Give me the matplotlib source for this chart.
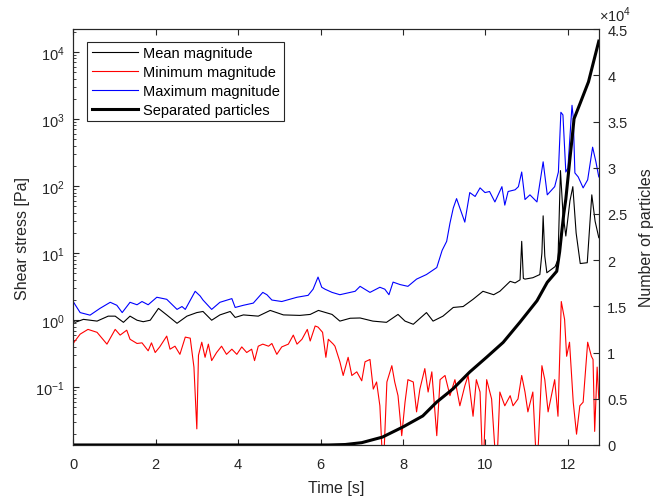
import numpy as np
import matplotlib
matplotlib.use("Agg")
import matplotlib.pyplot as plt
from matplotlib.ticker import FuncFormatter, LogLocator

plt.rcParams['font.family'] = ['Liberation Sans', 'DejaVu Sans']
plt.rcParams['mathtext.fontset'] = 'custom'
plt.rcParams['mathtext.rm'] = 'Liberation Sans'

# mean magnitude (black thin)
t_mean = [0, 0.05, 0.25, 0.58, 0.85, 1.02, 1.22, 1.38, 1.55, 1.7, 1.87, 2.07, 2.27, 2.52, 2.76,
          3.0, 3.15, 3.36, 3.56, 3.81, 3.93, 4.13, 4.49, 4.78, 5.1, 5.5, 5.75, 5.95, 6.28, 6.47,
          6.72, 6.96, 7.27, 7.6, 7.88, 8.05, 8.25, 8.57, 8.73, 8.97, 9.22, 9.46, 9.7, 9.94, 10.2,
          10.35, 10.6, 10.72, 10.84, 10.88, 10.92, 10.96, 11.15, 11.32, 11.37, 11.4, 11.44, 11.49,
          11.69, 11.76, 11.82, 11.88, 11.95, 12.05, 12.12, 12.2, 12.3, 12.47, 12.58, 12.66, 12.75]
mean_mag = [0.97, 0.93, 1.03, 0.97, 1.15, 1.15, 0.93, 1.15, 1.0, 0.95, 1.0, 1.5, 1.2, 0.9, 1.15,
            1.3, 1.35, 1.0, 1.2, 1.35, 1.1, 1.2, 1.15, 1.4, 1.2, 1.18, 1.22, 1.4, 1.22, 0.97,
            1.07, 1.08, 0.97, 0.93, 1.22, 0.97, 0.87, 1.3, 0.97, 1.15, 1.55, 1.6, 2.05, 2.7, 2.4,
            2.7, 3.8, 3.6, 4.0, 15, 4.2, 4.1, 4.3, 4.8, 10, 36, 9, 5.1,
            6.3, 8, 170, 40, 18, 60, 98, 20, 7.0, 7.2, 74, 30, 17]

# minimum magnitude (red)
t_min = [0, 0.17, 0.36, 0.58, 0.82, 1.02, 1.14, 1.3, 1.38, 1.55, 1.67, 1.82, 1.9, 1.99, 2.1,
         2.27, 2.35, 2.47, 2.59, 2.72, 2.84, 2.93, 3.0, 3.04, 3.12, 3.2, 3.28, 3.36, 3.48, 3.6,
         3.72, 3.85, 3.97, 4.09, 4.21, 4.33, 4.4, 4.49, 4.6, 4.74, 4.82, 4.94, 5.06, 5.22, 5.34,
         5.43, 5.55, 5.68, 5.75, 5.87, 5.94, 6.05, 6.13, 6.19, 6.31, 6.35, 6.47, 6.55, 6.67, 6.76,
         6.88, 7.0, 7.08, 7.2, 7.28, 7.36, 7.44, 7.52, 7.61, 7.73, 7.8, 7.88, 7.97, 8.05, 8.12,
         8.25, 8.33, 8.41, 8.53, 8.61, 8.7, 8.82, 8.9, 9.02, 9.14, 9.26, 9.38, 9.5, 9.58, 9.7,
         9.78, 9.87, 9.94, 10.03, 10.15, 10.27, 10.35, 10.47, 10.6, 10.67, 10.79, 10.88, 10.96,
         11.03, 11.15, 11.25, 11.37, 11.44, 11.52, 11.68, 11.76, 11.84, 11.92, 11.97, 12.04,
         12.13, 12.21, 12.29, 12.37, 12.48, 12.57, 12.61, 12.65, 12.71, 12.75]
min_mag = [0.45, 0.62, 0.73, 0.66, 0.44, 0.73, 0.6, 0.71, 0.52, 0.45, 0.46, 0.35, 0.46, 0.33, 0.4,
           0.58, 0.37, 0.41, 0.31, 0.56, 0.54, 0.2, 0.024, 0.3, 0.47, 0.28, 0.44, 0.25, 0.33, 0.41,
           0.31, 0.37, 0.31, 0.4, 0.33, 0.37, 0.25, 0.41, 0.44, 0.41, 0.45, 0.31, 0.4, 0.44, 0.6,
           0.44, 0.52, 0.73, 0.49, 0.82, 0.79, 0.66, 0.28, 0.52, 0.44, 0.41, 0.24, 0.15, 0.28, 0.15,
           0.17, 0.125, 0.24, 0.26, 0.094, 0.12, 0.053, 0.005, 0.12, 0.21, 0.12, 0.075, 0.019, 0.06, 0.13,
           0.12, 0.043, 0.094, 0.19, 0.085, 0.17, 0.019, 0.13, 0.15, 0.075, 0.13, 0.053, 0.105, 0.15, 0.037,
           0.13, 0.085, 0.005, 0.13, 0.067, 0.005, 0.085, 0.053, 0.075, 0.053, 0.067, 0.15, 0.085,
           0.043, 0.085, 0.005, 0.21, 0.13, 0.043, 0.13, 0.037, 1.9, 1.03, 0.29, 0.47,
           0.06, 0.02, 0.053, 0.06, 0.47, 0.29, 0.26, 0.022, 0.2, 0.067]

# maximum magnitude (blue)
t_max = [0, 0.17, 0.41, 0.65, 0.9, 1.06, 1.19, 1.38, 1.55, 1.67, 1.82, 2.03, 2.27, 2.52, 2.64,
         2.72, 2.96, 3.08, 3.15, 3.36, 3.56, 3.85, 3.93, 4.13, 4.37, 4.6, 4.7, 4.82, 5.06, 5.43,
         5.7, 5.82, 5.94, 6.03, 6.11, 6.28, 6.47, 6.84, 6.96, 7.2, 7.44, 7.56, 7.66, 7.76, 7.93,
         8.12, 8.33, 8.57, 8.82, 8.95, 9.06, 9.14, 9.22, 9.3, 9.38, 9.5, 9.62, 9.75, 9.87, 9.99,
         10.1, 10.23, 10.4, 10.47, 10.55, 10.72, 10.8, 10.88, 10.96, 11.08, 11.25, 11.4, 11.5,
         11.68, 11.77, 11.83, 11.88, 11.95, 12.0, 12.1, 12.13, 12.17, 12.25, 12.37, 12.48, 12.6,
         12.68, 12.75]
max_mag = [1.9, 1.3, 1.19, 1.5, 1.85, 1.67, 1.3, 1.85, 1.7, 1.9, 1.7, 2.2, 2.05, 1.45, 1.6,
           1.45, 2.7, 2.3, 2.0, 1.45, 1.85, 2.1, 1.55, 1.67, 1.8, 2.6, 2.4, 2.0, 1.9, 2.2,
           2.35, 2.9, 4.4, 3.1, 2.9, 2.6, 2.4, 2.7, 3.2, 2.6, 3.1, 2.9, 2.4, 3.7, 3.4,
           3.2, 4.1, 4.8, 6.1, 11, 15, 28, 47, 65, 47, 29, 80, 70, 94, 80,
           83, 58, 98, 52, 83, 88, 98, 162, 63, 74, 58, 230, 74,
           98, 162, 1260, 1150, 162, 185, 1600, 1060, 157, 137, 94, 124, 380,
           230, 137]

# separated particles (right axis)
t_part = [0, 6.2, 6.6, 7.0, 7.5, 8.0, 8.48, 8.82, 9.21, 9.62, 10.03, 10.43, 10.84, 11.25, 11.5,
          11.73, 11.8, 11.85, 11.9, 11.95, 12.0, 12.05, 12.1, 12.15, 12.3, 12.5, 12.75]
n_part = [0, 0, 50, 250, 850, 1950, 3140, 4650, 6060, 7900, 9500, 11100, 13300, 15600, 17600,
          18800, 20900, 23000, 25000, 26600, 28800, 31000, 33100, 35300, 37000, 39300, 43700]

gray = (0.15, 0.15, 0.15)

fig = plt.figure(figsize=(6.53, 5.02), dpi=100)
ax = fig.add_axes([0.112, 0.1116, 0.805, 0.8284])
ax2 = ax.twinx()

l1, = ax.plot(t_mean, mean_mag, color='k', lw=0.8)
l2, = ax.plot(t_min, min_mag, color='r', lw=0.8)
l3, = ax.plot(t_max, max_mag, color='b', lw=0.8)
l4, = ax2.plot(t_part, n_part, color='k', lw=2.2)

ax.set_yscale('log')
ax.set_xlim(0, 12.75)
ax.set_ylim(10**-1.86, 10**4.34)
ax2.set_ylim(0, 45000)
ax.set_xticks(np.arange(0, 13, 2))
ax2.set_yticks(np.arange(0, 45001, 5000))
ax2.yaxis.set_major_formatter(FuncFormatter(lambda v, p: f'{v/1e4:g}'))
ax.yaxis.set_minor_locator(LogLocator(base=10, subs=np.arange(2, 10)))

for a in (ax, ax2):
    for s in a.spines.values():
        s.set_color(gray)
        s.set_linewidth(0.8)
ax.tick_params(axis='both', which='both', direction='in', colors=gray, labelsize=10.5, top=True)
ax.tick_params(axis='x', pad=9)
ax.tick_params(axis='y', pad=6)
ax.tick_params(which='major', length=4)
ax.tick_params(which='minor', length=2)
ax2.tick_params(axis='y', direction='in', colors=gray, labelsize=10.5, length=4, pad=6)

ax.set_xlabel('Time [s]', fontsize=11.5, color=gray, labelpad=6)
ax.set_ylabel('Shear stress [Pa]', fontsize=11.5, color=gray, labelpad=4)
ax2.set_ylabel('Number of particles', fontsize=11.5, color=gray, labelpad=8)
ax2.text(1.0, 1.012, r'$\times10^{4}$', transform=ax2.transAxes, ha='left', va='bottom',
         fontsize=10.5, color=gray)

leg = ax2.legend([l1, l2, l3, l4],
                 ['Mean magnitude', 'Minimum magnitude', 'Maximum magnitude', 'Separated particles'],
                 loc='upper left', bbox_to_anchor=(0.027, 0.969), borderaxespad=0,
                 fancybox=False, framealpha=1, edgecolor=gray, fontsize=10.5,
                 handlelength=3.2, handletextpad=0.3, labelspacing=0.33, borderpad=0.3)
leg.get_frame().set_linewidth(0.8)

fig.savefig('out.png', dpi=100)
